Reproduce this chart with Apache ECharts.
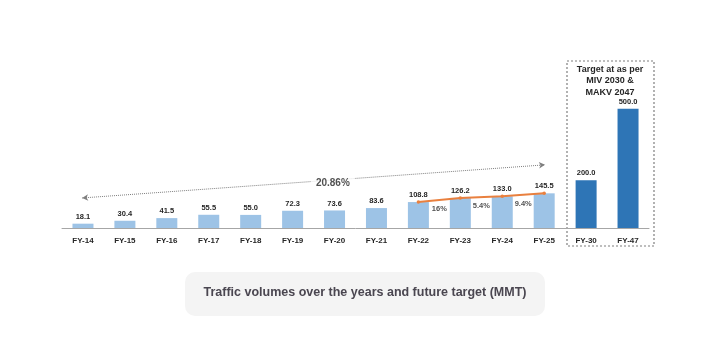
<!DOCTYPE html>
<html>
<head>
<meta charset="utf-8">
<script src="https://cdn.jsdelivr.net/npm/echarts@6/dist/echarts.min.js"></script>
<style>
  html, body { margin: 0; padding: 0; background: #ffffff; }
  #chart { width: 703px; height: 345px; }
</style>
</head>
<body>
<div id="chart"></div>
<script>
// Traffic volumes (MMT) by financial year, with FY-30 / FY-47 targets
const categories = ['FY-14', 'FY-15', 'FY-16', 'FY-17', 'FY-18', 'FY-19', 'FY-20',
                    'FY-21', 'FY-22', 'FY-23', 'FY-24', 'FY-25', 'FY-30', 'FY-47'];
const volumes = [18.1, 30.4, 41.5, 55.5, 55.0, 72.3, 73.6, 83.6, 108.8, 126.2, 133.0, 145.5, 200.0, 500.0];
const targetYears = ['FY-30', 'FY-47'];
const growthFrom = 'FY-22';               // year-on-year growth shown from here to FY-25
const growthLabels = ['16%', '5.4%', '9.4%'];
const cagrLabel = '20.86%';
const targetTitle = 'Target at as per\nMIV 2030 &\nMAKV 2047';
const chartTitle = 'Traffic volumes over the years and future target (MMT)';

const LIGHT = '#9DC3E6', DARK = '#2E75B6', ORANGE = '#E9803F';
const FONT = 'Liberation Sans, Arial, sans-serif';

const barData = volumes.map((v, i) => ({
  value: v,
  itemStyle: { color: targetYears.includes(categories[i]) ? DARK : LIGHT }
}));

// growth line runs over the actual years from growthFrom to FY-25
const gStart = categories.indexOf(growthFrom);
const gEnd = gStart + growthLabels.length;
const lineData = volumes.map((v, i) => (i >= gStart && i <= gEnd ? v : null));

// growth % labels sit between consecutive bars, just under the line
const growthPoints = growthLabels.map((t, k) => {
  const i = gStart + k;
  return { value: [i + 0.5, (volumes[i] + volumes[i + 1]) / 2], label: { formatter: t } };
});

const chart = echarts.init(document.getElementById('chart'), null, { renderer: 'canvas' });
chart.setOption({
  animation: false,
  textStyle: { fontFamily: FONT },
  grid: { left: 62, right: 54, top: 85, bottom: 117 },
  xAxis: [
    {
      type: 'category', data: categories,
      axisLine: { lineStyle: { color: '#a6a6a6', width: 1 } },
      axisTick: { show: false },
      axisLabel: { color: '#262626', fontWeight: 'bold', fontSize: 8, margin: 9, fontFamily: FONT }
    },
    { type: 'value', min: -0.5, max: categories.length - 0.5, show: false }
  ],
  yAxis: { type: 'value', min: 0, max: 600, show: false, splitLine: { show: false } },
  series: [
    {
      type: 'bar', data: barData, barWidth: 21, z: 2,
      label: { show: true, position: 'top', distance: 3, color: '#262626', fontWeight: 'bold',
               fontSize: 7.5, fontFamily: FONT, formatter: p => p.value.toFixed(1) }
    },
    {
      type: 'line', data: lineData, z: 3, connectNulls: false,
      lineStyle: { color: ORANGE, width: 2 },
      itemStyle: { color: ORANGE }, symbol: 'circle', symbolSize: 3.5, showSymbol: true
    },
    {
      type: 'scatter', xAxisIndex: 1, data: growthPoints, symbolSize: 1, z: 4,
      itemStyle: { color: 'rgba(0,0,0,0)' },
      label: { show: true, position: 'inside', offset: [0, 9], color: '#262626',
               fontWeight: 'bold', fontSize: 7.5, fontFamily: FONT }
    },
    {
      // CAGR arrow across the historical years
      type: 'scatter', xAxisIndex: 1, z: 5, symbolSize: 1,
      itemStyle: { color: 'rgba(0,0,0,0)' },
      data: [{ value: [5.96, 189], label: { formatter: cagrLabel } }],
      label: { show: true, position: 'inside', color: '#262626', fontWeight: 'bold', fontSize: 10,
               fontFamily: FONT, backgroundColor: '#ffffff', padding: [2, 5] },
      markLine: {
        silent: true, symbol: ['arrow', 'arrow'], symbolSize: [5, 6], z: 1,
        lineStyle: { color: '#7f7f7f', type: 'dotted', width: 1 },
        label: { show: false },
        data: [[{ coord: [-0.02, 126] }, { coord: [11.02, 265] }]]
      }
    }
  ],
  graphic: [
    {
      // dashed frame around the target years
      type: 'rect', x: 567, y: 61, z: 0,
      shape: { width: 87, height: 185 },
      style: { fill: 'none', stroke: '#7f7f7f', lineWidth: 1.2, lineDash: [2, 2] }
    },
    {
      type: 'text', x: 610, y: 64, z: 10,
      style: { text: targetTitle, font: 'bold 9px ' + FONT, fill: '#262626',
               align: 'center', verticalAlign: 'top', lineHeight: 11.3 }
    },
    {
      type: 'rect', x: 185, y: 272, z: 0,
      shape: { width: 360, height: 44, r: 10 },
      style: { fill: '#f4f4f4' }
    },
    {
      type: 'text', x: 365, y: 293, z: 10,
      style: { text: chartTitle, font: 'bold 12.5px ' + FONT, fill: '#4a4650',
               align: 'center', verticalAlign: 'middle' }
    }
  ]
});
</script>
</body>
</html>
